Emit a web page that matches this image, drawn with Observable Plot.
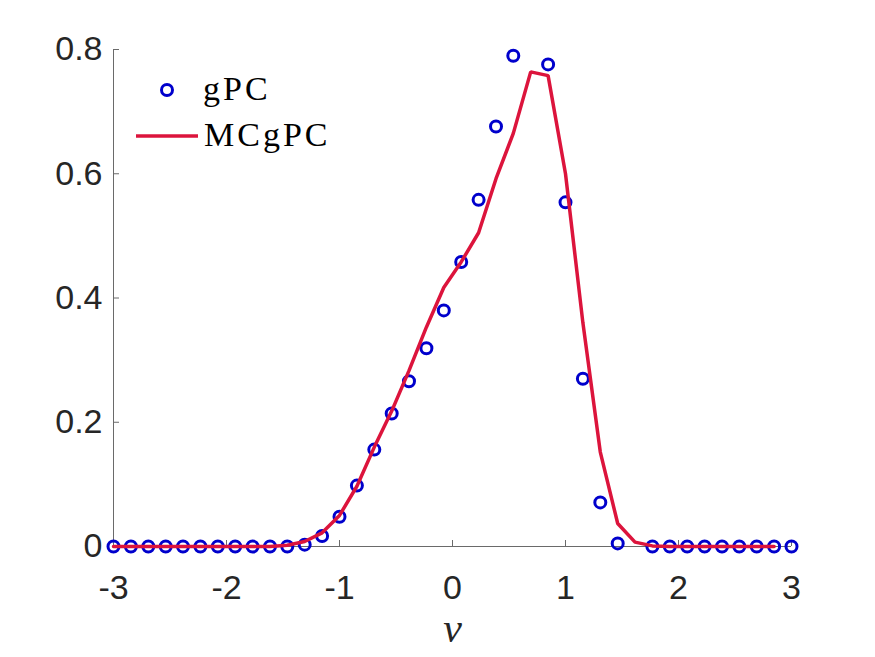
<!DOCTYPE html>
<html>
<head>
<meta charset="utf-8">
<script src="https://cdn.jsdelivr.net/npm/d3@7"></script>
<script src="https://cdn.jsdelivr.net/npm/@observablehq/plot@0.6"></script>
<style>
  body { margin: 0; background: #fff; }
  #chart { position: relative; width: 875px; height: 657px; }
  #legend { position: absolute; left: 0; top: 0; pointer-events: none; }
</style>
</head>
<body>
<div id="chart"></div>
<script>
// velocity grid v on [-3, 3]
const v = [
  -3.000, -2.846, -2.692, -2.538, -2.385, -2.231, -2.077, -1.923, -1.769, -1.615,
  -1.462, -1.308, -1.154, -1.000, -0.846, -0.692, -0.538, -0.385, -0.231, -0.077,
   0.077,  0.231,  0.385,  0.538,  0.692,  0.846,  1.000,  1.154,  1.308,  1.462,
   1.615,  1.769,  1.923,  2.077,  2.231,  2.385,  2.538,  2.692,  2.846,  3.000
];

// gPC density (null = no sample at that node)
const gpc = [
  0, 0, 0, 0, 0, 0, 0, 0, 0, 0,
  0, 0.003, 0.017, 0.048, 0.098, 0.156, 0.214, 0.266, 0.319, 0.380,
  0.458, 0.558, 0.676, 0.790, null, 0.776, 0.554, 0.270, 0.071, 0.005,
  null, 0, 0, 0, 0, 0, 0, 0, 0, 0
];

// MCgPC density (defined up to v = 2.846)
const mcgpc = [
  0, 0, 0, 0, 0, 0, 0, 0, 0, 0,
  0.002, 0.008, 0.022, 0.050, 0.097, 0.160, 0.218, 0.283, 0.353, 0.417,
  0.458, 0.505, 0.592, 0.665, 0.764, 0.758, 0.600, 0.360, 0.152, 0.037,
  0.007, 0.001, 0, 0, 0, 0, 0, 0, 0
];

const xTicks = [-3, -2, -1, 0, 1, 2, 3];
const xTickLabels = ["-3", "-2", "-1", "0", "1", "2", "3"];
const yTicks = [0, 0.2, 0.4, 0.6, 0.8];
const yTickLabels = ["0", "0.2", "0.4", "0.6", "0.8"];

const seriesNames = ["gPC", "MCgPC"];
const blue = "rgb(0,0,204)";
const red = "rgb(220,20,60)";
const axisGray = "#6a6a6a";
const labelColor = "#262626";

const gpcData = v.map((x, i) => ({x, y: gpc[i]})).filter(d => d.y != null);
const mcData = mcgpc.map((y, i) => ({x: v[i], y}));

const chart = Plot.plot({
  width: 875,
  height: 657,
  marginLeft: 113,
  marginRight: 84,
  marginTop: 49,
  marginBottom: 111,
  style: {fontFamily: "'Liberation Sans', Arial, sans-serif", background: "#fff", overflow: "visible"},
  x: {domain: [-3, 3]},
  y: {domain: [0, 0.8]},
  marks: [
    Plot.ruleX([-3], {stroke: axisGray, strokeWidth: 1}),
    Plot.ruleY([0], {stroke: axisGray, strokeWidth: 1}),
    Plot.axisX(xTicks, {
      tickSize: -6, tickPadding: 34, stroke: axisGray, fill: labelColor,
      fontSize: 34, label: null,
      tickFormat: d => xTickLabels[xTicks.indexOf(d)]
    }),
    Plot.axisY(yTicks, {
      tickSize: -6, tickPadding: 17, stroke: axisGray, fill: labelColor,
      fontSize: 34, label: null,
      tickFormat: d => yTickLabels[yTicks.indexOf(d)]
    }),
    Plot.dot(gpcData, {x: "x", y: "y", r: 5.5, stroke: blue, strokeWidth: 3, fill: "none"}),
    Plot.line(mcData, {x: "x", y: "y", stroke: red, strokeWidth: 3.5, strokeLinejoin: "miter"}),
    Plot.text(["v"], {
      frameAnchor: "bottom", dy: 95, text: d => d,
      fontFamily: "'Liberation Serif', 'DejaVu Serif', serif", fontStyle: "italic",
      fontSize: 42, fill: labelColor
    })
  ]
});

const host = document.getElementById("chart");
host.appendChild(chart);

// legend box drawn over the upper-left of the axes
const ns = "http://www.w3.org/2000/svg";
const leg = document.createElementNS(ns, "svg");
leg.setAttribute("id", "legend");
leg.setAttribute("width", 875);
leg.setAttribute("height", 657);
const g = d3.select(leg);
g.append("circle").attr("cx", 167).attr("cy", 90).attr("r", 5.5)
  .attr("fill", "none").attr("stroke", blue).attr("stroke-width", 3);
g.append("line").attr("x1", 136).attr("x2", 198).attr("y1", 136).attr("y2", 136)
  .attr("stroke", red).attr("stroke-width", 3.5);
g.selectAll("text.lab").data(seriesNames).join("text")
  .attr("class", "lab")
  .attr("x", (d, i) => i === 0 ? 203 : 204)
  .attr("y", (d, i) => i === 0 ? 100 : 146)
  .attr("font-family", "'Liberation Serif', 'DejaVu Serif', serif")
  .attr("font-size", 34)
  .attr("letter-spacing", 3)
  .attr("fill", "#000")
  .text(d => d);
host.appendChild(leg);
</script>
</body>
</html>
